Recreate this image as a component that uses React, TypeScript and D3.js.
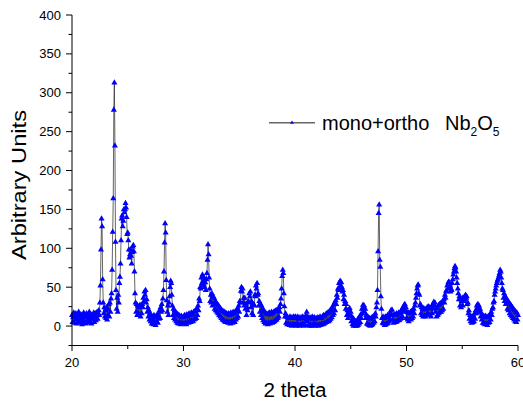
import React from "react";
import * as d3 from "d3";

// XRD scan: 2θ from 20° to 60° in 0.05° steps
const scanStart = 20;
const scanStep = 0.05;

// Counts, one row per degree (20 steps each), final point at 60°
const intensity: number[] = [
  14, 5, 11, 17, 4, 12, 8, 16, 3, 10, 15, 6, 18, 7, 13, 4, 15, 9, 2, 14,
  6, 17, 5, 12, 3, 11, 16, 7, 14, 4, 12, 18, 5, 10, 15, 3, 8, 14, 9, 17,
  5, 12, 16, 7, 13, 18, 9, 16, 20, 14, 30, 52, 98, 138, 128, 60, 30, 16, 24, 12,
  20, 10, 24, 8, 22, 14, 28, 12, 30, 18, 35, 42, 72, 121, 164, 278, 313, 232, 108, 46,
  22, 36, 18, 40, 30, 55, 63, 80, 110, 138, 142, 128, 135, 150, 146, 150, 158, 152, 140, 118,
  120, 110, 98, 88, 92, 98, 90, 80, 95, 102, 104, 96, 70, 42, 30, 18, 28, 14, 26, 16,
  24, 14, 27, 12, 25, 16, 28, 24, 36, 32, 44, 40, 46, 30, 34, 18, 24, 12, 20, 8,
  16, 6, 14, 3, 12, 8, 2, 14, 5, 11, 1, 13, 6, 15, 4, 14, 9, 20, 10, 24,
  18, 28, 20, 35, 46, 70, 107, 132, 120, 59, 33, 18, 26, 14, 30, 38, 50, 58, 55, 40,
  26, 14, 22, 10, 20, 8, 18, 6, 16, 4, 15, 3, 14, 5, 12, 2, 13, 4, 11, 3,
  12, 3, 14, 4, 13, 2, 15, 5, 12, 4, 16, 6, 14, 5, 17, 7, 15, 6, 18, 8,
  19, 9, 20, 10, 22, 14, 26, 20, 35, 32, 50, 48, 62, 55, 66, 52, 58, 62, 50, 56,
  46, 60, 68, 85, 105, 92, 62, 48, 32, 40, 30, 42, 26, 38, 28, 36, 22, 32, 20, 30,
  18, 28, 16, 26, 14, 24, 12, 22, 10, 20, 8, 19, 7, 18, 6, 17, 5, 16, 6, 15,
  4, 16, 5, 14, 3, 17, 6, 15, 4, 18, 7, 16, 5, 19, 8, 20, 10, 22, 12, 26,
  18, 32, 30, 45, 50, 44, 48, 30, 36, 26, 36, 22, 28, 14, 24, 20, 32, 30, 42, 38,
  44, 24, 32, 16, 28, 14, 28, 26, 40, 38, 52, 48, 55, 40, 42, 26, 32, 18, 28, 14,
  26, 10, 22, 7, 20, 5, 18, 3, 16, 4, 15, 2, 16, 4, 17, 3, 15, 5, 18, 4,
  16, 5, 18, 6, 19, 7, 20, 8, 21, 10, 22, 12, 24, 18, 28, 35, 48, 64, 72, 68,
  42, 25, 12, 16, 4, 12, 2, 11, 3, 10, 1, 12, 2, 11, 0, 10, 2, 12, 1, 11,
  2, 12, 0, 10, 3, 12, 1, 9, 0, 11, 2, 10, 1, 12, 3, 11, 0, 10, 2, 13,
  8, 18, 6, 12, 1, 10, 0, 11, 2, 9, 0, 12, 1, 10, 3, 11, 0, 9, 2, 10,
  1, 11, 0, 10, 2, 12, 1, 10, 3, 12, 2, 14, 3, 13, 4, 15, 5, 16, 6, 17,
  6, 18, 7, 20, 9, 22, 11, 24, 14, 27, 16, 30, 20, 33, 28, 40, 36, 48, 46, 55,
  48, 58, 52, 56, 50, 44, 46, 34, 40, 28, 32, 22, 28, 14, 20, 10, 18, 16, 23, 14,
  18, 6, 12, 2, 10, 0, 8, 1, 6, 0, 5, 0, 8, 1, 10, 3, 12, 5, 15, 10,
  22, 16, 27, 22, 26, 18, 22, 10, 14, 3, 12, 2, 11, 1, 10, 0, 9, 1, 11, 2,
  12, 4, 13, 6, 16, 12, 24, 30, 46, 96, 145, 156, 85, 76, 38, 22, 10, 4, 12, 3,
  10, 1, 12, 2, 11, 3, 14, 4, 13, 6, 16, 8, 20, 14, 21, 8, 14, 4, 15, 6,
  14, 5, 16, 6, 15, 8, 17, 7, 16, 9, 19, 10, 22, 12, 24, 18, 27, 28, 20, 24,
  10, 18, 8, 17, 6, 16, 9, 18, 8, 19, 10, 20, 12, 22, 16, 26, 30, 36, 42, 48,
  52, 53, 42, 40, 26, 28, 16, 24, 14, 22, 12, 23, 13, 21, 12, 22, 14, 24, 16, 25,
  15, 24, 14, 23, 12, 24, 16, 28, 22, 31, 26, 30, 18, 24, 12, 23, 14, 26, 16, 28,
  18, 29, 18, 30, 20, 32, 22, 34, 30, 40, 36, 45, 44, 52, 48, 56, 57, 50, 52, 44,
  48, 46, 55, 60, 66, 70, 74, 77, 75, 70, 62, 55, 48, 42, 34, 38, 26, 34, 24, 32,
  36, 26, 35, 32, 38, 34, 40, 36, 38, 28, 30, 16, 20, 9, 14, 6, 12, 4, 11, 5,
  13, 6, 16, 9, 20, 16, 26, 22, 28, 25, 26, 18, 22, 12, 17, 8, 14, 4, 13, 3,
  12, 2, 13, 3, 11, 1, 12, 4, 13, 5, 15, 8, 18, 14, 22, 24, 30, 32, 40, 44,
  48, 52, 55, 58, 60, 62, 65, 68, 72, 70, 62, 55, 48, 46, 36, 42, 32, 38, 28, 36,
  30, 22, 32, 20, 30, 16, 28, 14, 26, 12, 24, 10, 22, 8, 20, 6, 18, 5, 17, 8,
  14,
];

const xMajorTicks = [20, 30, 40, 50, 60];
const xMinorTicks = [25, 35, 45, 55];
const yMajorTicks = [0, 50, 100, 150, 200, 250, 300, 350, 400];
const yMinorTicks = [-25, 25, 75, 125, 175, 225, 275, 325, 375];

const seriesName = "mono+ortho";
const xTitle = "2 theta";
const yTitle = "Arbitrary Units";

const W = 523;
const H = 403;
const font = "'Liberation Sans', Arial, sans-serif";
const markerColor = "#0000ff";
const lineColor = "#222222";

export default function App() {
  const x = d3.scaleLinear().domain([20, 60]).range([72, 518]);
  const y = d3.scaleLinear().domain([-25, 400]).range([345.5, 15]);

  const points = intensity.map((v, i) => ({ t: scanStart + i * scanStep, v }));
  const linePath = d3
    .line<{ t: number; v: number }>()
    .x((d) => x(d.t))
    .y((d) => y(d.v))(points) as string;

  const tri = d3.symbol().type(d3.symbolTriangle).size(16)() as string;
  const legendTri = d3.symbol().type(d3.symbolTriangle).size(6)() as string;

  const [x0, x1] = x.range();
  const [yBottom, yTop] = y.range();

  return (
    <div style={{ position: "absolute", left: 0, top: 0 }}>
      <svg width={W} height={H} style={{ display: "block", background: "#fff" }} fontFamily={font}>
        {/* series */}
        <path d={linePath} fill="none" stroke={lineColor} strokeWidth={0.7} />
        <g fill={markerColor}>
          {points.map((d, i) => (
            <path key={i} d={tri} transform={`translate(${x(d.t)},${y(d.v)})`} />
          ))}
        </g>

        {/* y axis */}
        <line x1={x0} x2={x0} y1={yBottom} y2={yTop} stroke="#000" strokeWidth={1} />
        {yMajorTicks.map((t) => (
          <g key={"ym" + t}>
            <line x1={x0 - 6} x2={x0} y1={y(t)} y2={y(t)} stroke="#000" strokeWidth={1} />
            <text x={x0 - 11} y={y(t)} dy="0.35em" textAnchor="end" fontSize={13} fill="#000">
              {t}
            </text>
          </g>
        ))}
        {yMinorTicks.map((t) => (
          <line key={"yn" + t} x1={x0 - 3.5} x2={x0} y1={y(t)} y2={y(t)} stroke="#000" strokeWidth={1} />
        ))}

        {/* x axis */}
        <line x1={x0} x2={x1} y1={yBottom} y2={yBottom} stroke="#000" strokeWidth={1} />
        {xMajorTicks.map((t) => (
          <g key={"xm" + t}>
            <line x1={x(t)} x2={x(t)} y1={yBottom} y2={yBottom + 5.5} stroke="#000" strokeWidth={1} />
            <text x={x(t)} y={366.7} textAnchor="middle" fontSize={13} fill="#000">
              {t}
            </text>
          </g>
        ))}
        {xMinorTicks.map((t) => (
          <line key={"xn" + t} x1={x(t)} x2={x(t)} y1={yBottom} y2={yBottom + 3.5} stroke="#000" strokeWidth={1} />
        ))}

        {/* axis titles */}
        <text x={295} y={397} textAnchor="middle" fontSize={20} textLength={63} lengthAdjust="spacingAndGlyphs" fill="#000">
          {xTitle}
        </text>
        <text
          transform="translate(26,185) rotate(-90)"
          textAnchor="middle"
          fontSize={20}
          textLength={150}
          lengthAdjust="spacingAndGlyphs"
          fill="#000"
        >
          {yTitle}
        </text>

        {/* legend */}
        <line x1={269} x2={315} y1={122.7} y2={122.7} stroke="#666" strokeWidth={1.5} />
        <path d={legendTri} transform="translate(292,122.7)" fill={markerColor} />
        <text x={322} y={130} fontSize={20} fill="#000">
          {seriesName}
        </text>
        <text x={445} y={130} fontSize={20} fill="#000">
          Nb
          <tspan fontSize={12} dy={6}>2</tspan>
          <tspan fontSize={20} dy={-6}>O</tspan>
          <tspan fontSize={12} dy={6}>5</tspan>
        </text>
      </svg>
    </div>
  );
}
